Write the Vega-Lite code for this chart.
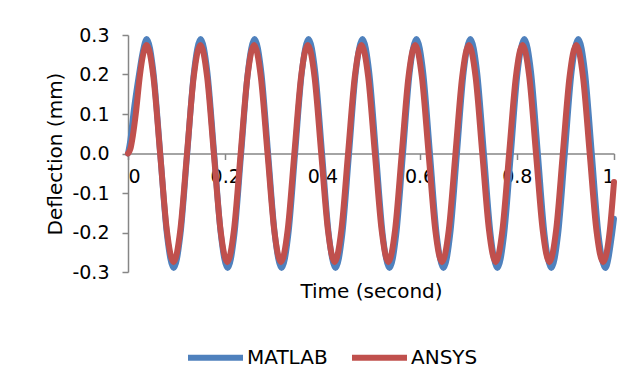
{
  "$schema": "https://vega.github.io/schema/vega-lite/v6.json",
  "width": 486,
  "height": 237,
  "autosize": {"type": "none"},
  "padding": {"left": 128, "top": 35, "right": 26, "bottom": 120},
  "background": "white",
  "config": {"view": {"stroke": null}, "font": "DejaVu Sans"},
  "data": {"values": [
    {"s":"MATLAB","t":0,"d":0},{"s":"MATLAB","t":0.005,"d":0.035},{"s":"MATLAB","t":0.011,"d":0.1},{"s":"MATLAB","t":0.0226,"d":0.2},{"s":"MATLAB","t":0.03,"d":0.255},
    {"s":"MATLAB","t":0.0385,"d":0.29},{"s":"MATLAB","t":0.0524,"d":0.205},{"s":"MATLAB","t":0.0663,"d":0},{"s":"MATLAB","t":0.0801,"d":-0.205},
    {"s":"MATLAB","t":0.094,"d":-0.29},{"s":"MATLAB","t":0.1079,"d":-0.205},{"s":"MATLAB","t":0.1218,"d":0},{"s":"MATLAB","t":0.1356,"d":0.205},
    {"s":"MATLAB","t":0.1495,"d":0.29},{"s":"MATLAB","t":0.1634,"d":0.205},{"s":"MATLAB","t":0.1773,"d":0},{"s":"MATLAB","t":0.1911,"d":-0.205},
    {"s":"MATLAB","t":0.205,"d":-0.29},{"s":"MATLAB","t":0.2189,"d":-0.205},{"s":"MATLAB","t":0.2328,"d":0},{"s":"MATLAB","t":0.2466,"d":0.205},
    {"s":"MATLAB","t":0.2605,"d":0.29},{"s":"MATLAB","t":0.2744,"d":0.205},{"s":"MATLAB","t":0.2883,"d":0},{"s":"MATLAB","t":0.3021,"d":-0.205},
    {"s":"MATLAB","t":0.316,"d":-0.29},{"s":"MATLAB","t":0.3299,"d":-0.205},{"s":"MATLAB","t":0.3438,"d":0},{"s":"MATLAB","t":0.3576,"d":0.205},
    {"s":"MATLAB","t":0.3715,"d":0.29},{"s":"MATLAB","t":0.3854,"d":0.205},{"s":"MATLAB","t":0.3993,"d":0},{"s":"MATLAB","t":0.4131,"d":-0.205},
    {"s":"MATLAB","t":0.427,"d":-0.29},{"s":"MATLAB","t":0.4409,"d":-0.205},{"s":"MATLAB","t":0.4548,"d":0},{"s":"MATLAB","t":0.4686,"d":0.205},
    {"s":"MATLAB","t":0.4825,"d":0.29},{"s":"MATLAB","t":0.4964,"d":0.205},{"s":"MATLAB","t":0.5103,"d":0},{"s":"MATLAB","t":0.5241,"d":-0.205},
    {"s":"MATLAB","t":0.538,"d":-0.29},{"s":"MATLAB","t":0.5519,"d":-0.205},{"s":"MATLAB","t":0.5658,"d":0},{"s":"MATLAB","t":0.5796,"d":0.205},
    {"s":"MATLAB","t":0.5935,"d":0.29},{"s":"MATLAB","t":0.6074,"d":0.205},{"s":"MATLAB","t":0.6213,"d":0},{"s":"MATLAB","t":0.6351,"d":-0.205},
    {"s":"MATLAB","t":0.649,"d":-0.29},{"s":"MATLAB","t":0.6629,"d":-0.205},{"s":"MATLAB","t":0.6768,"d":0},{"s":"MATLAB","t":0.6906,"d":0.205},
    {"s":"MATLAB","t":0.7045,"d":0.29},{"s":"MATLAB","t":0.7184,"d":0.205},{"s":"MATLAB","t":0.7323,"d":0},{"s":"MATLAB","t":0.7461,"d":-0.205},
    {"s":"MATLAB","t":0.76,"d":-0.29},{"s":"MATLAB","t":0.7739,"d":-0.205},{"s":"MATLAB","t":0.7878,"d":0},{"s":"MATLAB","t":0.8016,"d":0.205},
    {"s":"MATLAB","t":0.8155,"d":0.29},{"s":"MATLAB","t":0.8294,"d":0.205},{"s":"MATLAB","t":0.8433,"d":0},{"s":"MATLAB","t":0.8571,"d":-0.205},
    {"s":"MATLAB","t":0.871,"d":-0.29},{"s":"MATLAB","t":0.8849,"d":-0.205},{"s":"MATLAB","t":0.8988,"d":0},{"s":"MATLAB","t":0.9126,"d":0.205},
    {"s":"MATLAB","t":0.9265,"d":0.29},{"s":"MATLAB","t":0.9404,"d":0.205},{"s":"MATLAB","t":0.9543,"d":0},{"s":"MATLAB","t":0.9681,"d":-0.205},
    {"s":"MATLAB","t":0.982,"d":-0.29},{"s":"MATLAB","t":0.9959,"d":-0.205},{"s":"MATLAB","t":1.0,"d":-0.165},
    {"s":"ANSYS","t":0,"d":0},{"s":"ANSYS","t":0.005,"d":0.012},{"s":"ANSYS","t":0.01,"d":0.045},{"s":"ANSYS","t":0.016,"d":0.1},{"s":"ANSYS","t":0.0247,"d":0.2},{"s":"ANSYS","t":0.031,"d":0.25},
    {"s":"ANSYS","t":0.0385,"d":0.275},{"s":"ANSYS","t":0.0523,"d":0.194},{"s":"ANSYS","t":0.0661,"d":0},{"s":"ANSYS","t":0.0799,"d":-0.194},
    {"s":"ANSYS","t":0.0937,"d":-0.275},{"s":"ANSYS","t":0.1076,"d":-0.194},{"s":"ANSYS","t":0.1214,"d":0},{"s":"ANSYS","t":0.1352,"d":0.194},
    {"s":"ANSYS","t":0.149,"d":0.275},{"s":"ANSYS","t":0.1628,"d":0.194},{"s":"ANSYS","t":0.1766,"d":0},{"s":"ANSYS","t":0.1904,"d":-0.194},
    {"s":"ANSYS","t":0.2042,"d":-0.275},{"s":"ANSYS","t":0.218,"d":-0.194},{"s":"ANSYS","t":0.2318,"d":0},{"s":"ANSYS","t":0.2457,"d":0.194},
    {"s":"ANSYS","t":0.2595,"d":0.275},{"s":"ANSYS","t":0.2733,"d":0.194},{"s":"ANSYS","t":0.2871,"d":0},{"s":"ANSYS","t":0.3009,"d":-0.194},
    {"s":"ANSYS","t":0.3147,"d":-0.275},{"s":"ANSYS","t":0.3285,"d":-0.194},{"s":"ANSYS","t":0.3423,"d":0},{"s":"ANSYS","t":0.3561,"d":0.194},
    {"s":"ANSYS","t":0.3699,"d":0.275},{"s":"ANSYS","t":0.3838,"d":0.194},{"s":"ANSYS","t":0.3976,"d":0},{"s":"ANSYS","t":0.4114,"d":-0.194},
    {"s":"ANSYS","t":0.4252,"d":-0.275},{"s":"ANSYS","t":0.439,"d":-0.194},{"s":"ANSYS","t":0.4528,"d":0},{"s":"ANSYS","t":0.4666,"d":0.194},
    {"s":"ANSYS","t":0.4804,"d":0.275},{"s":"ANSYS","t":0.4942,"d":0.194},{"s":"ANSYS","t":0.508,"d":0},{"s":"ANSYS","t":0.5219,"d":-0.194},
    {"s":"ANSYS","t":0.5357,"d":-0.275},{"s":"ANSYS","t":0.5495,"d":-0.194},{"s":"ANSYS","t":0.5633,"d":0},{"s":"ANSYS","t":0.5771,"d":0.194},
    {"s":"ANSYS","t":0.5909,"d":0.275},{"s":"ANSYS","t":0.6047,"d":0.194},{"s":"ANSYS","t":0.6185,"d":0},{"s":"ANSYS","t":0.6323,"d":-0.194},
    {"s":"ANSYS","t":0.6461,"d":-0.275},{"s":"ANSYS","t":0.66,"d":-0.194},{"s":"ANSYS","t":0.6738,"d":0},{"s":"ANSYS","t":0.6876,"d":0.194},
    {"s":"ANSYS","t":0.7014,"d":0.275},{"s":"ANSYS","t":0.7152,"d":0.194},{"s":"ANSYS","t":0.729,"d":0},{"s":"ANSYS","t":0.7428,"d":-0.194},
    {"s":"ANSYS","t":0.7566,"d":-0.275},{"s":"ANSYS","t":0.7704,"d":-0.194},{"s":"ANSYS","t":0.7842,"d":0},{"s":"ANSYS","t":0.7981,"d":0.194},
    {"s":"ANSYS","t":0.8119,"d":0.275},{"s":"ANSYS","t":0.8257,"d":0.194},{"s":"ANSYS","t":0.8395,"d":0},{"s":"ANSYS","t":0.8533,"d":-0.194},
    {"s":"ANSYS","t":0.8671,"d":-0.275},{"s":"ANSYS","t":0.8809,"d":-0.194},{"s":"ANSYS","t":0.8947,"d":0},{"s":"ANSYS","t":0.9085,"d":0.194},
    {"s":"ANSYS","t":0.9223,"d":0.275},{"s":"ANSYS","t":0.9362,"d":0.194},{"s":"ANSYS","t":0.95,"d":0},{"s":"ANSYS","t":0.9638,"d":-0.194},
    {"s":"ANSYS","t":0.9776,"d":-0.275},{"s":"ANSYS","t":0.9914,"d":-0.194},{"s":"ANSYS","t":1.0,"d":-0.072}
  ]},
  "encoding": {
    "x": {"field": "t", "type": "quantitative",
      "scale": {"domain": [0, 1], "nice": false, "zero": false},
      "axis": {"values": [0, 0.2, 0.4, 0.6, 0.8, 1], "format": "~g", "offset": -118.5, "grid": false,
        "domainColor": "#868686", "domainWidth": 1.5, "tickColor": "#868686", "tickWidth": 1.5, "tickSize": 6,
        "labelFontSize": 19, "labelColor": "#000000", "labelPadding": 8, "labelFont": "DejaVu Sans",
        "title": "Time (second)", "titleFontSize": 20, "titleFontWeight": "normal", "titleColor": "#000000",
        "titleFont": "DejaVu Sans", "titleY": 138, "titleBaseline": "middle"}},
    "y": {"field": "d", "type": "quantitative",
      "scale": {"domain": [-0.3, 0.3], "nice": false, "zero": false},
      "axis": {"values": [-0.3, -0.2, -0.1, 0, 0.1, 0.2, 0.3], "grid": false,
        "labelExpr": "datum.value < -0.001 ? '-' + format(-datum.value, '.1f') : format(abs(datum.value), '.1f')",
        "domainColor": "#868686", "domainWidth": 1.5, "tickColor": "#868686", "tickWidth": 1.5, "tickSize": 6,
        "labelFontSize": 19, "labelColor": "#000000", "labelPadding": 13, "labelFont": "DejaVu Sans",
        "title": "Deflection (mm)", "titleFontSize": 20, "titleFontWeight": "normal", "titleColor": "#000000",
        "titleFont": "DejaVu Sans", "titleX": -73, "titleY": 118.5, "titleAngle": 270, "titleAlign": "center", "titleBaseline": "middle"}},
    "color": {"field": "s", "type": "nominal",
      "scale": {"domain": ["MATLAB", "ANSYS"], "range": ["#4F81BD", "#C0504D"]},
      "legend": {"orient": "none", "legendX": 57, "legendY": 292, "direction": "horizontal", "title": null,
        "symbolType": "stroke", "symbolSize": 3025, "symbolStrokeWidth": 6, "labelFontSize": 20, "labelFont": "DejaVu Sans",
        "labelColor": "#000000", "labelOffset": 1, "columnPadding": 12, "padding": 0}}
  },
  "layer": [
    {"transform": [{"filter": "datum.s == 'MATLAB'"}],
     "mark": {"type": "line", "interpolate": "monotone", "strokeWidth": 6, "strokeCap": "round", "strokeJoin": "round"}},
    {"transform": [{"filter": "datum.s == 'ANSYS'"}],
     "mark": {"type": "line", "interpolate": "monotone", "strokeWidth": 6, "strokeCap": "round", "strokeJoin": "round"}}
  ]
}
